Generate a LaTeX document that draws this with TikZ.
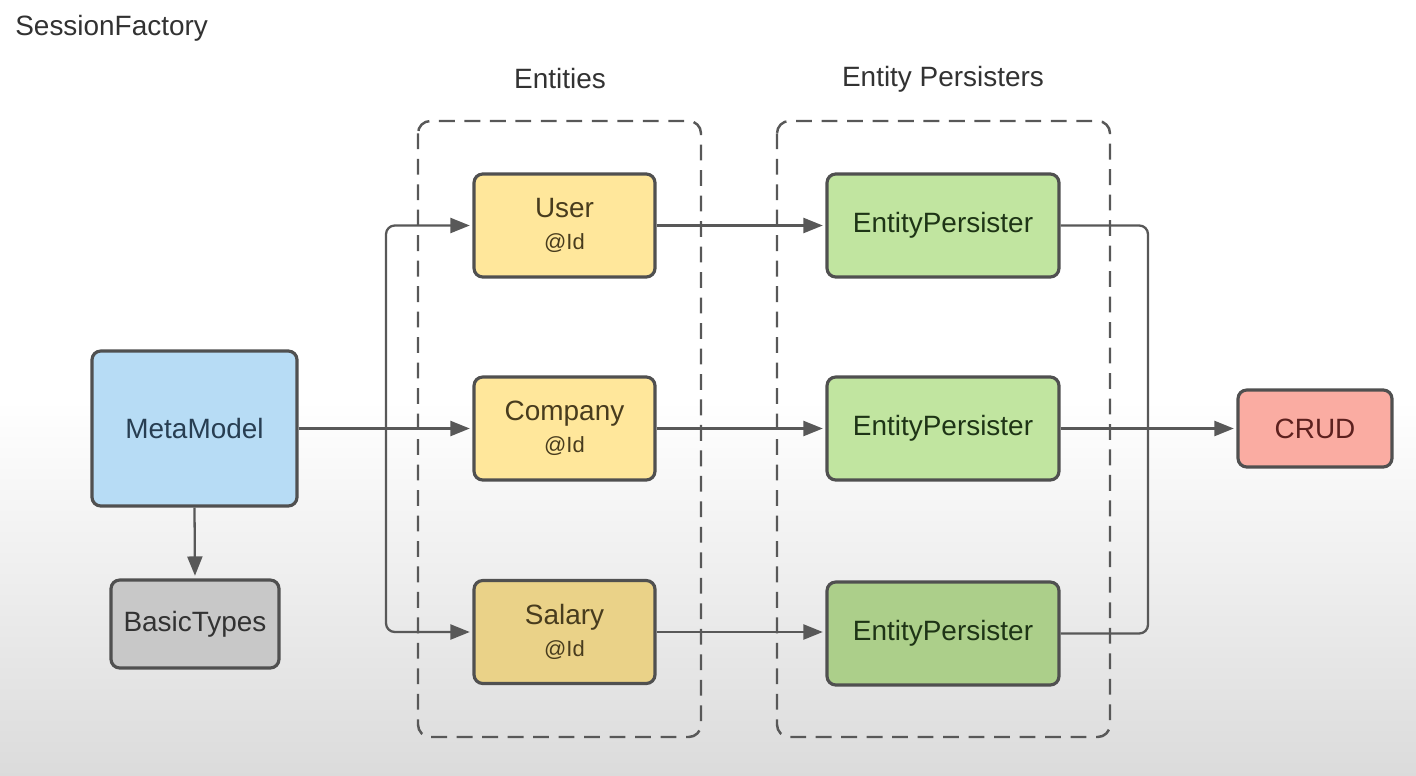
\documentclass[tikz,border=0pt]{standalone}
\usepackage{fontspec}
\setmainfont{Liberation Sans}
\definecolor{metablue}{RGB}{183, 220, 245}
\definecolor{metatext}{RGB}{40, 62, 82}
\definecolor{basicgray}{RGB}{200, 200, 200}
\definecolor{entyellow}{RGB}{255, 231, 155}
\definecolor{entyellowdark}{RGB}{234, 210, 136}
\definecolor{enttext}{RGB}{72, 60, 30}
\definecolor{persgreen}{RGB}{193, 229, 160}
\definecolor{persgreendark}{RGB}{172, 207, 138}
\definecolor{perstext}{RGB}{30, 52, 22}
\definecolor{crudred}{RGB}{250, 172, 162}
\definecolor{crudtext}{RGB}{92, 32, 30}
\definecolor{boxline}{RGB}{80, 80, 80}
\definecolor{flowgray}{RGB}{88, 88, 88}
\definecolor{titlegray}{RGB}{50, 50, 50}
\usetikzlibrary{arrows.meta, positioning, calc}
\newcommand{\idtag}{{\fontsize{12.5}{15}\selectfont @Id}}

\begin{document}
\begin{tikzpicture}[
  box/.style={draw=boxline, line width=1.8pt, rounded corners=5pt, align=center, font=\fontsize{15.9}{18}\selectfont},
  entitybox/.style={box, fill=entyellow, text=enttext, minimum width=3.62cm, minimum height=2.06cm},
  persistbox/.style={box, fill=persgreen, text=perstext, minimum width=4.64cm, minimum height=2.06cm},
  groupframe/.style={draw=flowgray, line width=1.4pt, dash pattern=on 9pt off 5.5pt, rounded corners=7pt},
  grouptitle/.style={font=\fontsize{15.9}{19}\selectfont, text=titlegray},
  link/.style={draw=flowgray, line width=1.3pt, rounded corners=5pt},
  flow/.style={link, -{Triangle[length=11pt, width=8.5pt]}, shorten >=1.5pt}
]
  % Background
  \fill[white] (0, 0) rectangle (28.32, -8);
  \shade[top color=white, bottom color=black!14] (0, -8) rectangle (28.32, -15.5);

  % Titles
  \node[grouptitle, anchor=west, inner sep=0pt] (factory) at (0.3, -0.56) {SessionFactory};
  \node[grouptitle] (enttitle) at (11.2, -1.58) {Entities};
  \node[grouptitle] (perstitle) at (18.86, -1.58) {Entity Persisters};

  % Dashed groups
  \draw[groupframe] (8.36, -2.42) rectangle (14.02, -14.74);
  \draw[groupframe] (15.54, -2.42) rectangle (22.2, -14.74);

  % Meta model
  \node[box, fill=metablue, text=metatext, minimum width=4.1cm, minimum height=3.1cm] (meta) at (3.89, -8.57) {MetaModel};
  \node[box, fill=basicgray, text=titlegray, minimum width=3.36cm, minimum height=1.76cm] (basic) at (3.9, -12.48) {BasicTypes};

  % Entities
  \node[entitybox] (user) at (11.29, -4.51) {User\\\idtag};
  \node[entitybox] (company) at (11.29, -8.57) {Company\\\idtag};
  \node[entitybox, fill=entyellowdark] (salary) at (11.29, -12.64) {Salary\\\idtag};

  % Persisters
  \node[persistbox] (pers1) at (18.86, -4.51) {EntityPersister};
  \node[persistbox] (pers2) at (18.86, -8.57) {EntityPersister};
  \node[persistbox, fill=persgreendark] (pers3) at (18.86, -12.67) {EntityPersister};

  \node[box, fill=crudred, text=crudtext, minimum width=3.08cm, minimum height=1.54cm] (crud) at (26.3, -8.57) {CRUD};

  % Connectors
  \coordinate (splitl) at (7.72, -8.57);
  \coordinate (splitr) at (22.96, -8.57);
  \draw[flow] (meta.south) -- (basic.north);
  \draw[flow] (meta.east) -- (company.west);
  \draw[flow] (splitl) |- (user.west);
  \draw[flow] (splitl) |- (salary.west);
  \draw[flow] (user.east) -- (pers1.west);
  \draw[flow] (company.east) -- (pers2.west);
  \draw[flow] (salary.east) -- (salary.east -| pers3.west);
  \draw[link] (pers1.east) -| (splitr);
  \draw[link] (pers3.east) -| (splitr);
  \draw[flow] (pers2.east) -- (crud.west);
\end{tikzpicture}
\end{document}
